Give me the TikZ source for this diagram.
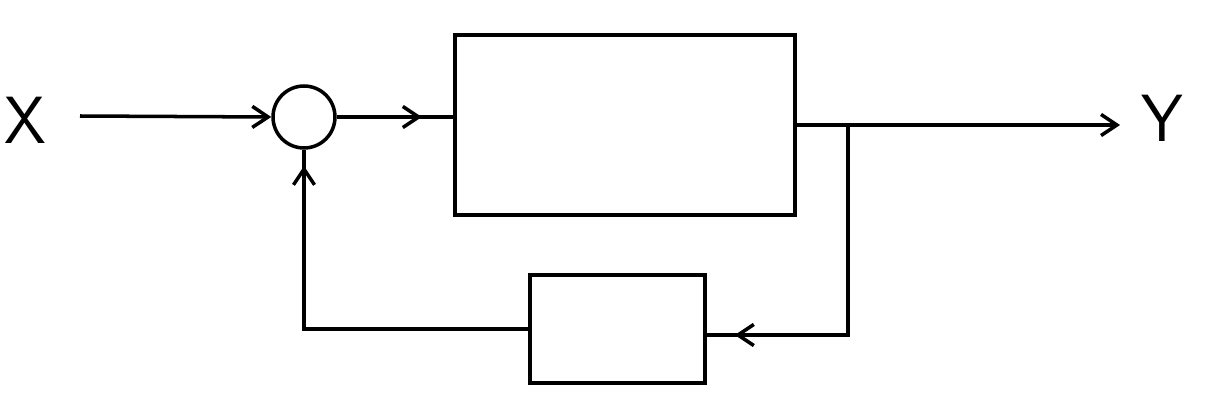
\documentclass[tikz,border=0pt]{standalone}
\usetikzlibrary{arrows.meta,decorations.markings}

\begin{document}
\begin{tikzpicture}[x=0.02cm,y=-0.02cm,line width=2pt,>={Straight Barb[length=9pt,width=12pt]}]
    \tikzstyle{block}=[rectangle,draw=black,fill=white,inner sep=0pt]
    \tikzstyle{sumnode}=[circle,draw=black,fill=white,minimum size=1.24cm,inner sep=0pt]
    \tikzstyle{signal}=[font=\fontsize{38}{40}\selectfont\sffamily,inner sep=0pt]
    \tikzstyle{midarrow}=[postaction={decorate,decoration={markings,mark=at position #1 with {\arrow{>}}}}]
    \useasboundingbox (0,0) rectangle (1226,412);

    \node[signal] (X) at (25,120) {X};
    \node[signal] (Y) at (1162,118) {Y};
    \node[sumnode] (sum) at (304,117) {};
    \node[block,minimum width=6.8cm,minimum height=3.6cm] (G) at (625,125) {};
    \node[block,minimum width=3.5cm,minimum height=2.16cm] (H) at (617.5,329) {};

    \coordinate (in) at (80,116);
    \coordinate (out) at (1120,125);
    \coordinate (tap) at (848,125);
    \coordinate (back) at (848,335);

    \draw[->] (in) -- (sum.west);
    \draw[midarrow=0.73] (sum.east) -- (sum.east -| G.west);
    \draw[->] (G.east) -- (out);
    % feedback path
    \draw[midarrow=0.92] (tap) -- (back) -- (H.east |- back);
    \draw[midarrow=0.96] (H.west) -| (sum.south);
\end{tikzpicture}
\end{document}
